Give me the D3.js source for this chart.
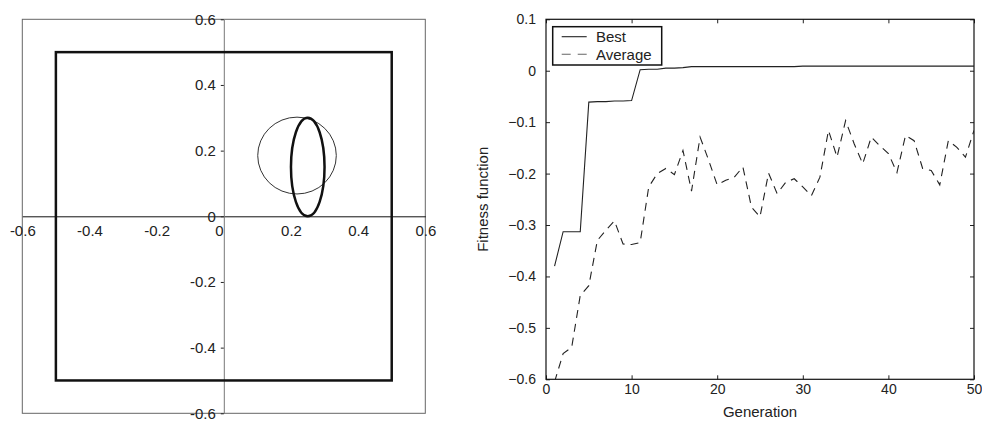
<!DOCTYPE html>
<html>
<head>
<meta charset="utf-8">
<script src="https://cdn.jsdelivr.net/npm/d3@7"></script>
<style>
  body { margin: 0; background: #fff; }
  svg { display: block; font-family: "Liberation Sans", Arial, sans-serif; }
  text { fill: #222; }
</style>
</head>
<body>
<svg width="982" height="428"></svg>
<script>
// left panel: region shapes
var leftTicks = [-0.6, -0.4, -0.2, 0, 0.2, 0.4, 0.6];
var squareBounds = [-0.5, 0.5];
var circleCenter = [0.218, 0.185], circleRadius = 0.117;
var ellipseCenter = [0.25, 0.15], ellipseRadii = [0.05, 0.15];

// right panel: fitness per generation
var generations = d3.range(1, 51);
var best = [-0.38, -0.313, -0.313, -0.313, -0.061, -0.060, -0.060, -0.059, -0.059, -0.058,
  0.002, 0.003, 0.003, 0.005, 0.005, 0.006, 0.008, 0.008, 0.008, 0.008,
  0.008, 0.008, 0.008, 0.008, 0.008, 0.008, 0.008, 0.008, 0.008, 0.009,
  0.009, 0.009, 0.009, 0.009, 0.009, 0.009, 0.009, 0.009, 0.009, 0.009,
  0.009, 0.009, 0.009, 0.009, 0.009, 0.009, 0.009, 0.009, 0.009, 0.009];
var average = [-0.605, -0.55, -0.538, -0.437, -0.418, -0.33, -0.31, -0.292, -0.337, -0.338,
  -0.334, -0.226, -0.2, -0.19, -0.202, -0.155, -0.234, -0.129, -0.174, -0.222,
  -0.213, -0.207, -0.187, -0.265, -0.284, -0.199, -0.239, -0.217, -0.21, -0.226,
  -0.243, -0.207, -0.116, -0.168, -0.097, -0.142, -0.181, -0.129, -0.146, -0.161,
  -0.198, -0.126, -0.136, -0.19, -0.194, -0.222, -0.136, -0.149, -0.168, -0.116];
var rightYTicks = [0.1, 0, -0.1, -0.2, -0.3, -0.4, -0.5, -0.6];
var rightXTicks = [0, 10, 20, 30, 40, 50];

var svg = d3.select("svg");

// ---------- left panel ----------
var xL = d3.scaleLinear().domain([-0.6, 0.6]).range([22.3, 425.3]),
    yL = d3.scaleLinear().domain([-0.6, 0.6]).range([413.3, 19.3]);

var gl = svg.append("g");

gl.append("rect")
  .attr("x", xL(-0.6)).attr("y", yL(0.6))
  .attr("width", xL(0.6) - xL(-0.6)).attr("height", yL(-0.6) - yL(0.6))
  .attr("fill", "none").attr("stroke", "#666").attr("stroke-width", 1);

var fmtL = function(d) { return d === 0 ? "0" : String(d).replace("0.", "0."); };

var xAxisL = gl.append("g")
  .attr("transform", "translate(0," + yL(0) + ")")
  .call(d3.axisBottom(xL).tickValues(leftTicks).tickSize(0).tickSizeOuter(0).tickPadding(9).tickFormat(fmtL));
xAxisL.select(".domain").attr("stroke", "#111");

var yAxisL = gl.append("g")
  .attr("transform", "translate(" + xL(0) + ",0)")
  .call(d3.axisLeft(yL).tickValues(leftTicks).tickSize(3).tickSizeOuter(0).tickPadding(5).tickFormat(fmtL));
yAxisL.select(".domain").attr("stroke", "#777");
yAxisL.selectAll(".tick line").attr("stroke", "#222");

gl.selectAll(".tick text").attr("font-size", 15).attr("font-family", "Liberation Sans, Arial, sans-serif").attr("fill", "#222");
xAxisL.selectAll(".tick text").filter(function(d) { return d === 0; }).attr("dx", -5);

gl.append("rect")
  .attr("x", xL(squareBounds[0])).attr("y", yL(squareBounds[1]))
  .attr("width", xL(squareBounds[1]) - xL(squareBounds[0]))
  .attr("height", yL(squareBounds[0]) - yL(squareBounds[1]))
  .attr("fill", "none").attr("stroke", "#111").attr("stroke-width", 2.5);

gl.append("ellipse")
  .attr("cx", xL(circleCenter[0])).attr("cy", yL(circleCenter[1]))
  .attr("rx", xL(circleCenter[0] + circleRadius) - xL(circleCenter[0]))
  .attr("ry", yL(circleCenter[1]) - yL(circleCenter[1] + circleRadius))
  .attr("fill", "none").attr("stroke", "#333").attr("stroke-width", 1);

gl.append("ellipse")
  .attr("cx", xL(ellipseCenter[0])).attr("cy", yL(ellipseCenter[1]))
  .attr("rx", xL(ellipseCenter[0] + ellipseRadii[0]) - xL(ellipseCenter[0]))
  .attr("ry", yL(ellipseCenter[1]) - yL(ellipseCenter[1] + ellipseRadii[1]))
  .attr("fill", "none").attr("stroke", "#111").attr("stroke-width", 2.5);

// ---------- right panel ----------
var x = d3.scaleLinear().domain([0, 50]).range([546, 974]),
    y = d3.scaleLinear().domain([-0.6, 0.1]).range([379.3, 19.3]);

var g = svg.append("g");
var fmtR = function(d) { return d === 0 ? "0" : d3.format(".1f")(d); };

var ya = g.append("g").attr("transform", "translate(" + x(0) + ",0)")
  .call(d3.axisLeft(y).tickValues(rightYTicks).tickSizeInner(-4).tickSizeOuter(0).tickPadding(10).tickFormat(fmtR));
var xa = g.append("g").attr("transform", "translate(0," + y(-0.6) + ")")
  .call(d3.axisBottom(x).tickValues(rightXTicks).tickSizeInner(-4).tickSizeOuter(0).tickPadding(5));
g.append("g").attr("transform", "translate(0," + y(0.1) + ")")
  .call(d3.axisTop(x).tickValues(rightXTicks).tickSizeInner(-4).tickSizeOuter(0).tickFormat(""));
g.append("g").attr("transform", "translate(" + x(50) + ",0)")
  .call(d3.axisRight(y).tickValues(rightYTicks).tickSizeInner(-4).tickSizeOuter(0).tickFormat(""));
g.selectAll(".domain").remove();
g.selectAll(".tick line").attr("stroke", "#222");
g.selectAll(".tick text").attr("font-size", 14).attr("font-family", "Liberation Sans, Arial, sans-serif").attr("fill", "#222");

g.append("rect")
  .attr("x", x(0)).attr("y", y(0.1))
  .attr("width", x(50) - x(0)).attr("height", y(-0.6) - y(0.1))
  .attr("fill", "none").attr("stroke", "#111").attr("stroke-width", 1.2);

g.append("defs").append("clipPath").attr("id", "clipR")
  .append("rect").attr("x", x(0)).attr("y", y(0.1))
  .attr("width", x(50) - x(0)).attr("height", y(-0.6) - y(0.1));

var line = d3.line().x(function(d, i) { return x(generations[i]); }).y(function(d) { return y(d); });

g.append("path").datum(best)
  .attr("clip-path", "url(#clipR)")
  .attr("fill", "none").attr("stroke", "#222").attr("stroke-width", 1.1)
  .attr("d", line);

g.append("path").datum(average)
  .attr("clip-path", "url(#clipR)")
  .attr("fill", "none").attr("stroke", "#222").attr("stroke-width", 1.1)
  .attr("stroke-dasharray", "8,6")
  .attr("d", line);

g.append("text")
  .attr("x", (x(0) + x(50)) / 2).attr("y", 417)
  .attr("text-anchor", "middle").attr("font-size", 15)
  .text("Generation");

g.append("text")
  .attr("transform", "translate(488," + ((y(0.1) + y(-0.6)) / 2) + ") rotate(-90)")
  .attr("text-anchor", "middle").attr("font-size", 15)
  .text("Fitness function");

// legend
var lg = g.append("g");
lg.append("rect")
  .attr("x", 552.7).attr("y", 26.7).attr("width", 109).attr("height", 38.3)
  .attr("fill", "#fff").attr("stroke", "#111").attr("stroke-width", 1.5);
var legendItems = ["Best", "Average"];
legendItems.forEach(function(name, i) {
  var ly = 36.7 + i * 17.6;
  lg.append("line")
    .attr("x1", 561.7).attr("x2", 586.7).attr("y1", ly).attr("y2", ly)
    .attr("stroke", i === 0 ? "#222" : "#666").attr("stroke-width", 1.1)
    .attr("stroke-dasharray", i === 0 ? null : "9,7");
  lg.append("text")
    .attr("x", 596).attr("y", ly).attr("dy", "0.35em")
    .attr("font-size", 15)
    .text(name);
});
</script>
</body>
</html>
